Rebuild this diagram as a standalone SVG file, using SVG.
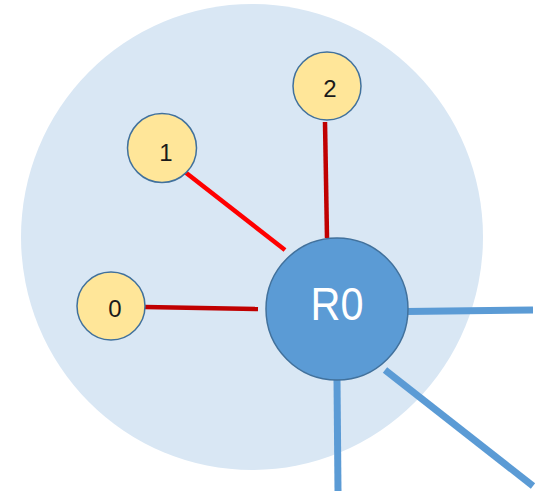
<svg xmlns="http://www.w3.org/2000/svg" width="551" height="495" viewBox="0 0 551 495">
  <style>
    .area { fill: #d9e7f4; }
    .leaf { fill: #ffe699; stroke: #41719c; stroke-width: 1.5; }
    .router { fill: #5b9bd5; stroke: #41719c; stroke-width: 1.5; }
    .lbl { font-family: "Liberation Sans", Arial, sans-serif; font-size: 24px; fill: #1a1a1a; text-anchor: middle; }
    .rlbl { font-family: "Liberation Sans", Arial, sans-serif; font-size: 47px; fill: #ffffff; text-anchor: middle; }
    .red { stroke: #ff0000; stroke-width: 4.5; fill: none; }
    .dred { stroke: #c00000; stroke-width: 4.5; fill: none; }
    .blue { stroke: #5b9bd5; stroke-width: 7; fill: none; }
  </style>
  <rect width="551" height="495" fill="#ffffff"/>
  <g id="area">
    <ellipse class="area" cx="252" cy="237" rx="231" ry="233"/>
  </g>
  <g id="connectors">
    <line class="dred" x1="145" y1="307" x2="258" y2="309"/>
    <line class="red" x1="185" y1="172" x2="285" y2="250"/>
    <line class="dred" x1="325" y1="122" x2="327" y2="238"/>
    <line class="blue" x1="406" y1="311.5" x2="533" y2="310"/>
    <line class="blue" x1="337" y1="380" x2="338" y2="491"/>
    <line class="blue" x1="385" y1="370" x2="533" y2="486"/>
  </g>
  <g id="node-0">
    <circle class="leaf" cx="111" cy="306" r="34"/>
    <text class="lbl" x="115" y="317">0</text>
  </g>
  <g id="node-1">
    <circle class="leaf" cx="162" cy="148" r="34.5"/>
    <text class="lbl" x="166" y="161">1</text>
  </g>
  <g id="node-2">
    <circle class="leaf" cx="327" cy="86" r="34"/>
    <text class="lbl" x="330" y="97">2</text>
  </g>
  <g id="node-R0">
    <circle class="router" cx="337" cy="309" r="71"/>
    <text class="rlbl" x="337" y="320" textLength="53" lengthAdjust="spacingAndGlyphs">R0</text>
  </g>
</svg>
